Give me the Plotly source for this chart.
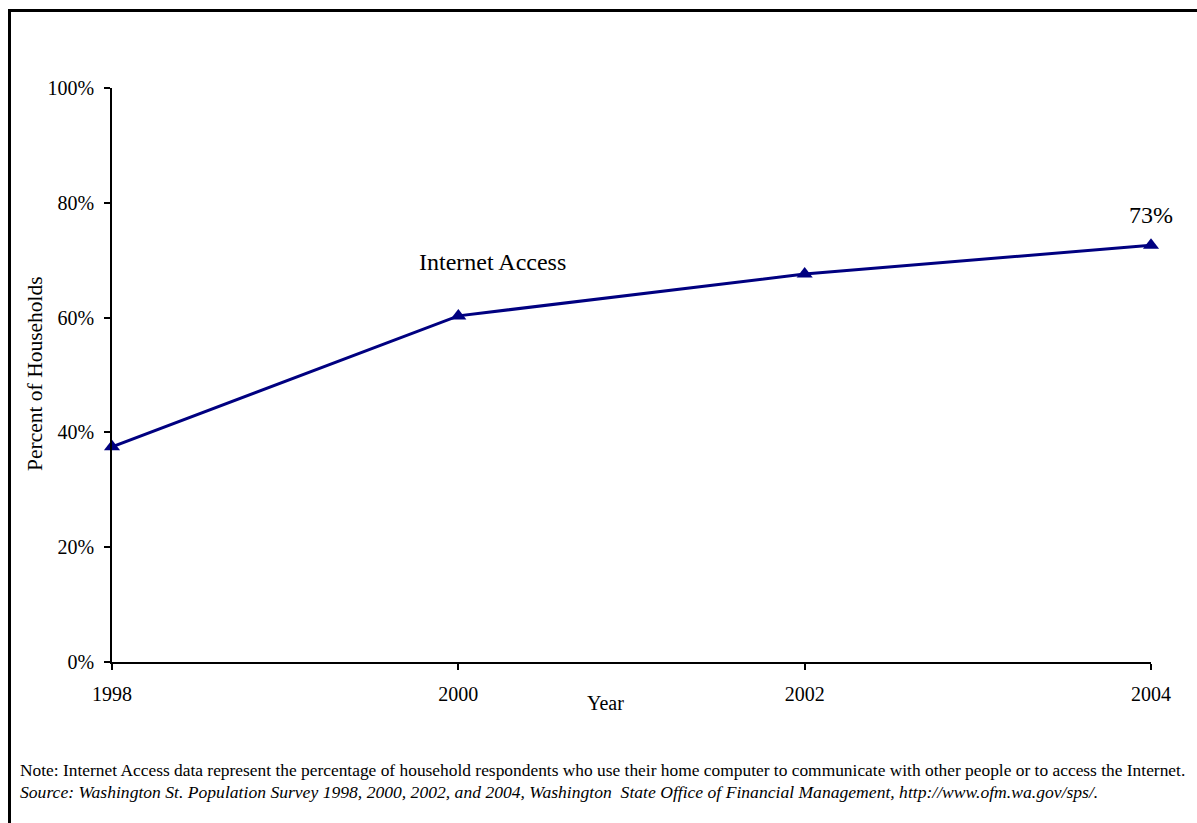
import plotly.graph_objects as go

years = [1998, 2000, 2002, 2004]
internet_access = [0.375, 0.603, 0.676, 0.726]
y_ticks = [0, 0.2, 0.4, 0.6, 0.8, 1.0]
x_ticks = [1998, 2000, 2002, 2004]
series_name = "Internet Access"
note_text = ("Note: Internet Access data represent the percentage of household respondents who use their "
             "home computer to communicate with other people or to access the Internet.")
source_text = ("<i>Source: Washington St. Population Survey 1998, 2000, 2002, and 2004, Washington  State "
               "Office of Financial Management, http://www.ofm.wa.gov/sps/.</i>")

W, H = 1197, 823
L, R, T, B = 112, 46, 88, 161
pw, ph = W - L - R, H - T - B

def px(x):
    return (x - L) / pw

def py(y):
    return (H - B - y) / ph

FONT = "Liberation Serif"

fig = go.Figure()
fig.add_trace(go.Scatter(
    x=years, y=internet_access, mode="lines+markers", name=series_name,
    line=dict(color="#000080", width=3),
    marker=dict(symbol="triangle-up", size=14, color="#000080"),
    cliponaxis=False, showlegend=False,
))

fig.update_layout(
    width=W, height=H,
    margin=dict(l=L, r=R, t=T, b=B),
    paper_bgcolor="white", plot_bgcolor="white",
    font=dict(family=FONT, color="black", size=20),
    xaxis=dict(range=[1998, 2004], tickvals=x_ticks, ticktext=[str(v) for v in x_ticks],
               showgrid=False, zeroline=False, showline=True, linecolor="black", linewidth=1.5,
               ticks="outside", ticklen=6, tickcolor="black", tickwidth=1.5,
               ticklabelstandoff=7, tickfont=dict(family=FONT, size=20)),
    yaxis=dict(range=[0, 1], tickvals=y_ticks, tickformat=".0%",
               showgrid=False, zeroline=False, showline=True, linecolor="black", linewidth=1.5,
               ticks="outside", ticklen=6, tickcolor="black", tickwidth=1.5,
               ticklabelstandoff=6, tickfont=dict(family=FONT, size=20)),
)

annotations = [
    dict(x=2000.2, y=0.697, xref="x", yref="y", text=series_name, showarrow=False,
         font=dict(family=FONT, size=24), xanchor="center", yanchor="middle"),
    dict(x=years[-1], y=internet_access[-1], xref="x", yref="y",
         text=f"{round(internet_access[-1]*100)}%", showarrow=False,
         font=dict(family=FONT, size=24), xanchor="center", yanchor="middle", yshift=30),
    dict(x=px(605), y=py(703), xref="paper", yref="paper", text="Year", showarrow=False,
         font=dict(family=FONT, size=20), xanchor="center", yanchor="middle"),
    dict(x=px(35), y=py(374), xref="paper", yref="paper", text="Percent of Households",
         showarrow=False, textangle=-90, font=dict(family=FONT, size=21.5), xanchor="center", yanchor="middle"),
    dict(x=px(18), y=py(770), xref="paper", yref="paper", text=note_text, showarrow=False,
         font=dict(family=FONT, size=17.4), xanchor="left", yanchor="middle"),
    dict(x=px(18), y=py(792), xref="paper", yref="paper", text=source_text, showarrow=False,
         font=dict(family=FONT, size=17.6), xanchor="left", yanchor="middle"),
]
fig.update_layout(annotations=annotations)

fig.add_shape(type="line", xref="paper", yref="paper", x0=px(9.5), x1=px(9.5), y0=py(10), y1=py(H + 5),
              line=dict(color="black", width=3))
fig.add_shape(type="line", xref="paper", yref="paper", x0=px(8), x1=px(W + 5), y0=py(10.5), y1=py(10.5),
              line=dict(color="black", width=3))

fig.write_html("out.html")
